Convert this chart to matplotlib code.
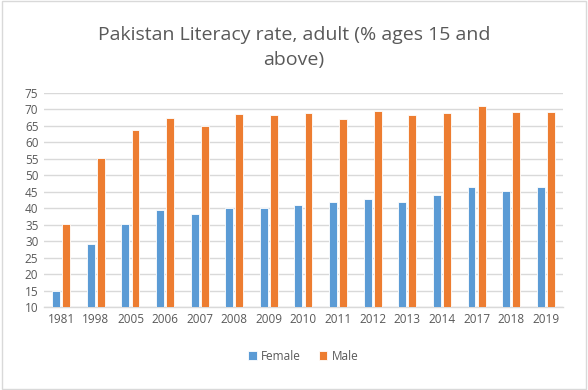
import matplotlib
matplotlib.use("Agg")
import matplotlib.pyplot as plt
import numpy as np

years = ["1981", "1998", "2005", "2006", "2007", "2008", "2009", "2010",
         "2011", "2012", "2013", "2014", "2017", "2018", "2019"]
female = [14.8, 29.1, 35.3, 39.5, 38.3, 40.0, 40.2, 40.9, 41.9, 42.9, 41.9, 44.1, 46.4, 45.3, 46.4]
male = [35.3, 55.2, 63.9, 67.4, 64.9, 68.6, 68.4, 68.8, 67.0, 69.6, 68.4, 68.8, 71.0, 69.1, 69.1]
yticks = list(range(10, 80, 5))

plt.rcParams['font.family'] = ['Open Sans', 'DejaVu Sans']
grey = "#595959"

fig = plt.figure(figsize=(5.88, 3.9), dpi=100)
fig.patch.set_facecolor("white")
ax = fig.add_axes([0.0748, 0.2128, 0.8827, 0.5487])

x = np.arange(len(years))
w = 0.23
ax.bar(x - 0.145, np.array(female) - 10, w, bottom=10, color="#5b9bd5",
       edgecolor="white", linewidth=0.6, label="Female", zorder=3)
ax.bar(x + 0.145, np.array(male) - 10, w, bottom=10, color="#ed7d31",
       edgecolor="white", linewidth=0.6, label="Male", zorder=3)

ax.set_xlim(-0.5, len(years) - 0.5)
ax.set_ylim(10, 75)
ax.set_yticks(yticks)
ax.set_xticks(x)
ax.set_xticklabels(years)
ax.tick_params(axis="both", length=0, labelsize=8.5, colors=grey, pad=4)
ax.grid(axis="y", color="#d9d9d9", linewidth=1, zorder=0)
for s in ["top", "right", "left"]:
    ax.spines[s].set_visible(False)
ax.spines["bottom"].set_color("#d9d9d9")
ax.spines["bottom"].set_linewidth(1)

fig.text(0.5, 0.877, "Pakistan Literacy rate, adult (% ages 15 and\nabove)",
         ha="center", va="center", fontsize=14, color=grey, linespacing=1.5)

ax.legend(loc="center", bbox_to_anchor=(0.5, -0.229), ncol=2, frameon=False,
          fontsize=8.5, labelcolor=grey, handlelength=0.7, handleheight=0.7,
          columnspacing=1.5, handletextpad=0.4)

border = plt.Rectangle((0.003, 0.003), 0.994, 0.994, transform=fig.transFigure,
                       fill=False, edgecolor="#d9d9d9", linewidth=1)
fig.patches.append(border)

fig.savefig("out.png", dpi=100)
